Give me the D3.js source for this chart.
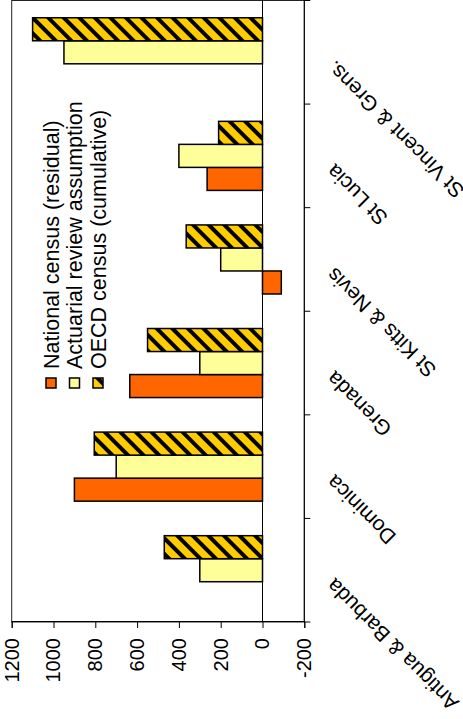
<!DOCTYPE html>
<html>
<head>
<meta charset="utf-8">
<script src="https://cdn.jsdelivr.net/npm/d3@7"></script>
<style>
html,body{margin:0;padding:0;background:#fff;}
svg{display:block;font-family:"Liberation Sans",Arial,sans-serif;}
</style>
</head>
<body>
<svg id="chart" width="463" height="719"></svg>
<script>
const categories = ["Antigua & Barbuda","Dominica","Grenada","St Kitts & Nevis","St Lucia","St Vincent & Grens."];
const seriesNames = ["National census (residual)","Actuarial review assumption","OECD census (cumulative)"];
const nationalCensus = [null, 900, 635, -90, 265, null];
const actuarialReview = [300, 700, 300, 200, 400, 950];
const oecdCensus = [470, 805, 550, 365, 210, 1100];
const tickValues = [-200, 0, 200, 400, 600, 800, 1000, 1200];

const seriesValues = [nationalCensus, actuarialReview, oecdCensus];
const fills = ["#FF6600", "#FFFF99", "url(#hatch)"];

const svg = d3.select("#chart");
const defs = svg.append("defs");
const pat = defs.append("pattern")
  .attr("id","hatch").attr("patternUnits","userSpaceOnUse")
  .attr("width",11).attr("height",11)
  .attr("patternTransform","rotate(45)");
pat.append("rect").attr("width",11).attr("height",11).attr("fill","#FFCC00");
pat.append("rect").attr("width",4).attr("height",11).attr("fill","#000");

// draw the chart in its original (upright) orientation, then rotate 90deg CCW
const g = svg.append("g").attr("transform","translate(0,719) rotate(-90)");

const x = d3.scaleBand().domain(categories).range([97, 718.5]);
const y = d3.scaleLinear().domain([-200, 1200]).range([304.3, 11.7]);
const bw = x.bandwidth();
const xs = d3.scaleBand().domain(seriesNames).range([bw*0.75/4.5, bw - bw*0.75/4.5]);

// plot border
g.append("rect").attr("x",x.range()[0]).attr("y",y(1200))
  .attr("width",x.range()[1]-x.range()[0]).attr("height",y(-200)-y(1200))
  .attr("fill","none").attr("stroke","#222").attr("stroke-width",1);

// zero line
g.append("line").attr("x1",x.range()[0]).attr("x2",x.range()[1])
  .attr("y1",y(0)).attr("y2",y(0)).attr("stroke","#000").attr("stroke-width",1);

// bars
seriesNames.forEach((s, si) => {
  const data = categories.map((c, i) => ({c, v: seriesValues[si][i]})).filter(d => d.v !== null);
  g.append("g").selectAll("rect").data(data).join("rect")
    .attr("x", d => x(d.c) + xs(s))
    .attr("width", xs.bandwidth())
    .attr("y", d => y(Math.max(0, d.v)))
    .attr("height", d => Math.abs(y(d.v) - y(0)))
    .attr("fill", fills[si])
    .attr("stroke","#000").attr("stroke-width",1.5);
});

// value axis
const ya = g.append("g").attr("transform",`translate(${x.range()[0]},0)`)
  .call(d3.axisLeft(y).tickValues(tickValues).tickFormat(d => String(d)).tickSize(6).tickPadding(10));
ya.select(".domain").attr("stroke","#000");
ya.selectAll(".tick line").attr("stroke","#000");
ya.selectAll("text").attr("font-size",20).attr("fill","#000").attr("font-family","Liberation Sans, Arial, sans-serif");

// category axis at the bottom (value -200)
const cy = y(-200);
g.append("line").attr("x1",x.range()[0]).attr("x2",x.range()[1]).attr("y1",cy).attr("y2",cy).attr("stroke","#000");
const bounds = categories.map(c => x(c)).concat([x.range()[1]]);
g.append("g").selectAll("line").data(bounds).join("line")
  .attr("x1", d => d).attr("x2", d => d).attr("y1", cy).attr("y2", cy + 6)
  .attr("stroke","#000");
g.append("g").selectAll("text").data(categories).join("text")
  .attr("transform", d => `translate(${x(d) + bw/2 - 7},${cy + 31}) rotate(-45)`)
  .attr("text-anchor","end")
  .attr("font-size",21)
  .attr("fill","#000")
  .text(d => d);

// legend
const legendY = [51, 74.5, 98];
const lg = g.append("g");
seriesNames.forEach((s, si) => {
  lg.append("rect").attr("x",331).attr("y",legendY[si]-5).attr("width",10).attr("height",10)
    .attr("fill",fills[si]).attr("stroke","#000").attr("stroke-width",1.5);
  lg.append("text").attr("x",350).attr("y",legendY[si]+7.5)
    .attr("font-size",21.5).attr("fill","#000").text(s);
});
</script>
</body>
</html>
